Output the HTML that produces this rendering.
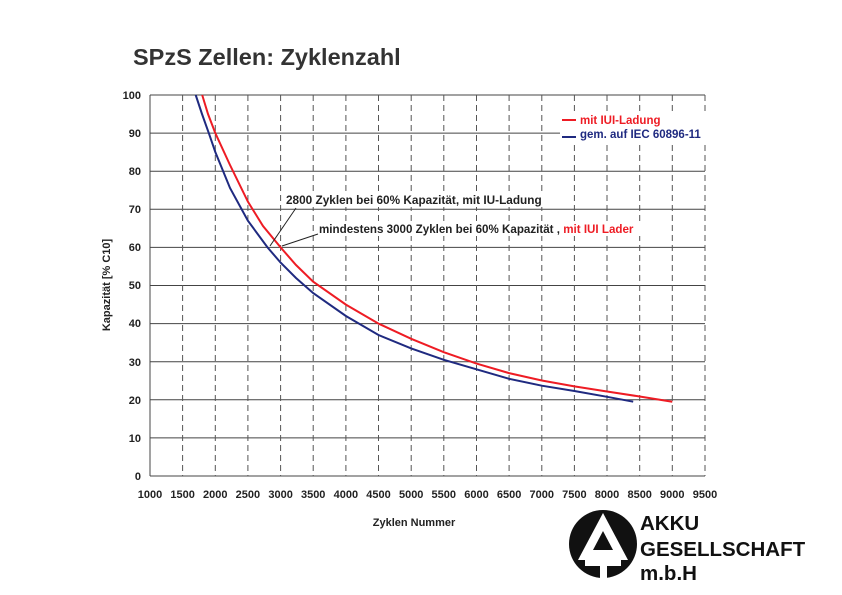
<!DOCTYPE html>
<html><head><meta charset="utf-8"><style>
body{margin:0;background:#fff;}
svg{display:block;font-family:"Liberation Sans",Arial,sans-serif;}
</style></head><body>
<svg width="842" height="595" viewBox="0 0 842 595" xmlns="http://www.w3.org/2000/svg">
<rect width="842" height="595" fill="#fff"/>
<text x="133" y="65" font-size="23.5" font-weight="bold" fill="#333">SPzS Zellen: Zyklenzahl</text>
<g stroke="#444" stroke-width="1">
<line x1="150" y1="95" x2="705" y2="95"/>
<line x1="150" y1="133.1" x2="705" y2="133.1"/>
<line x1="150" y1="171.2" x2="705" y2="171.2"/>
<line x1="150" y1="209.3" x2="705" y2="209.3"/>
<line x1="150" y1="247.4" x2="705" y2="247.4"/>
<line x1="150" y1="285.5" x2="705" y2="285.5"/>
<line x1="150" y1="323.6" x2="705" y2="323.6"/>
<line x1="150" y1="361.7" x2="705" y2="361.7"/>
<line x1="150" y1="399.8" x2="705" y2="399.8"/>
<line x1="150" y1="437.9" x2="705" y2="437.9"/>
<line x1="150" y1="476" x2="705" y2="476"/>
</g>
<g stroke="#555" stroke-width="1" stroke-dasharray="6,4">
<line x1="182.6" y1="95" x2="182.6" y2="476"/>
<line x1="215.3" y1="95" x2="215.3" y2="476"/>
<line x1="247.9" y1="95" x2="247.9" y2="476"/>
<line x1="280.6" y1="95" x2="280.6" y2="476"/>
<line x1="313.2" y1="95" x2="313.2" y2="476"/>
<line x1="345.9" y1="95" x2="345.9" y2="476"/>
<line x1="378.5" y1="95" x2="378.5" y2="476"/>
<line x1="411.2" y1="95" x2="411.2" y2="476"/>
<line x1="443.8" y1="95" x2="443.8" y2="476"/>
<line x1="476.5" y1="95" x2="476.5" y2="476"/>
<line x1="509.1" y1="95" x2="509.1" y2="476"/>
<line x1="541.8" y1="95" x2="541.8" y2="476"/>
<line x1="574.4" y1="95" x2="574.4" y2="476"/>
<line x1="607" y1="95" x2="607" y2="476"/>
<line x1="639.7" y1="95" x2="639.7" y2="476"/>
<line x1="672.3" y1="95" x2="672.3" y2="476"/>
<line x1="705" y1="95" x2="705" y2="476"/>
</g>
<line x1="150" y1="95" x2="150" y2="476" stroke="#444"/>
<g font-size="11" font-weight="bold" fill="#222" text-anchor="end">
<text x="141" y="99">100</text><text x="141" y="137">90</text><text x="141" y="175">80</text>
<text x="141" y="213">70</text><text x="141" y="251">60</text><text x="141" y="289">50</text>
<text x="141" y="327">40</text><text x="141" y="366">30</text><text x="141" y="404">20</text>
<text x="141" y="442">10</text><text x="141" y="480">0</text>
</g>
<g font-size="11" font-weight="bold" fill="#222" text-anchor="middle">
<text x="150" y="498">1000</text><text x="182.6" y="498">1500</text><text x="215.3" y="498">2000</text>
<text x="247.9" y="498">2500</text><text x="280.6" y="498">3000</text><text x="313.2" y="498">3500</text>
<text x="345.9" y="498">4000</text><text x="378.5" y="498">4500</text><text x="411.2" y="498">5000</text>
<text x="443.8" y="498">5500</text><text x="476.5" y="498">6000</text><text x="509.1" y="498">6500</text>
<text x="541.8" y="498">7000</text><text x="574.4" y="498">7500</text><text x="607" y="498">8000</text>
<text x="639.7" y="498">8500</text><text x="672.3" y="498">9000</text><text x="705" y="498">9500</text>
</g>
<text x="414" y="526" font-size="11" font-weight="bold" fill="#222" text-anchor="middle">Zyklen Nummer</text>
<text transform="translate(110,285) rotate(-90)" font-size="11" font-weight="bold" fill="#222" text-anchor="middle">Kapazität [% C10]</text>
<polyline fill="none" stroke="#ee1c24" stroke-width="2" points="202.2,95 208,114 215.3,133.1 230,165 247.9,201.7 263,226 280.6,247.4 296,265 313.2,281.7 345.9,304.6 378.5,323.6 411.2,338.8 443.8,352.2 476.5,363.6 509.1,373.1 541.8,380.5 574.4,386.4 607,391.5 639.7,396.5 672.3,401.7"/>
<polyline fill="none" stroke="#1f2a80" stroke-width="2" points="195.7,95 202,114 208.8,133.1 215.3,152 230,188 247.9,220.7 267.5,247.4 280.6,262.6 296,278 313.2,293.1 345.9,316 378.5,335 411.2,348.4 443.8,359.8 476.5,369.3 509.1,378.8 541.8,385.7 574.4,391 607,396.8 633.2,401.7"/>
<rect x="560" y="112" width="146" height="31" fill="#fff"/>
<line x1="562" y1="120" x2="576" y2="120" stroke="#ee1c24" stroke-width="2"/>
<text x="580" y="124" font-size="11.5" font-weight="bold" fill="#ee1c24">mit IUI-Ladung</text>
<line x1="562" y1="137" x2="576" y2="137" stroke="#1f2a80" stroke-width="2"/>
<text x="580" y="138" font-size="11.5" font-weight="bold" fill="#1f2a80">gem. auf IEC 60896-11</text>
<rect x="285" y="193" width="260" height="14" fill="#fff"/>
<text x="286" y="204" font-size="11.8" font-weight="bold" fill="#222">2800 Zyklen bei 60% Kapazität, mit IU-Ladung</text>
<line x1="296" y1="208" x2="270" y2="246" stroke="#222" stroke-width="1"/>
<rect x="318" y="222" width="325" height="14" fill="#fff"/>
<text x="319" y="233" font-size="11.6" font-weight="bold" fill="#222">mindestens 3000 Zyklen bei 60% Kapazität , <tspan fill="#ee1c24">mit IUI Lader</tspan></text>
<line x1="318" y1="234" x2="282" y2="246" stroke="#222" stroke-width="1"/>
<circle cx="603" cy="544" r="34" fill="#111"/>
<polygon points="603,513 578,560 628,560" fill="#fff"/>
<polygon points="603,531 593,550 613,550" fill="#111"/>
<rect x="585" y="560" width="36" height="6" fill="#fff"/>
<rect x="600" y="566" width="7" height="12" fill="#fff"/>
<g font-size="20.5" font-weight="bold" fill="#111">
<text x="640" y="530">AKKU</text>
<text x="640" y="556">GESELLSCHAFT</text>
<text x="640" y="580">m.b.H</text>
</g>
</svg>
</body></html>
